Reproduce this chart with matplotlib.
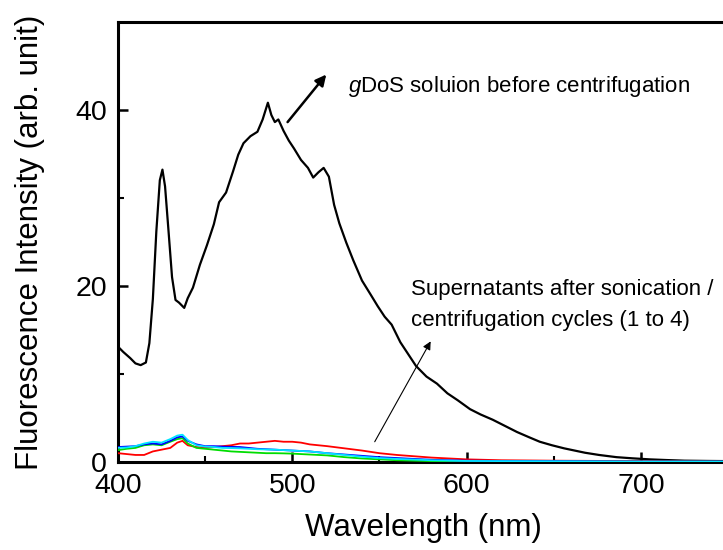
import matplotlib
matplotlib.use("Agg")
import matplotlib.pyplot as plt

plt.rcParams['font.family'] = ['Liberation Sans', 'DejaVu Sans']
plt.rcParams['mathtext.fontset'] = 'custom'
plt.rcParams['mathtext.rm'] = 'Liberation Sans'
plt.rcParams['mathtext.it'] = 'Liberation Sans:italic'

# ---- data ----
wl_black = [400, 403, 407, 410, 413, 416, 418, 420, 422, 424, 425.5, 427, 429, 431,
            433, 435, 438, 440, 443, 447, 451, 455, 458, 462, 466, 469, 472, 476,
            480, 483, 486, 488, 490, 492, 495, 498, 501, 505, 509, 512, 515, 518,
            521, 524, 527, 531, 535, 540, 545, 549, 553, 557, 562, 566, 571, 577,
            583, 589, 595, 602, 608, 615, 622, 629, 636, 642, 649, 656, 662, 668,
            676, 686, 695, 705, 715, 725, 738, 750]
int_black = [13.1, 12.5, 11.8, 11.2, 11.0, 11.3, 13.5, 18.5, 26.2, 32.0, 33.2, 31.3,
             26.2, 21.0, 18.4, 18.1, 17.5, 18.6, 19.8, 22.4, 24.6, 27.0, 29.5, 30.6,
             33.0, 34.9, 36.2, 37.0, 37.5, 38.9, 40.8, 39.4, 38.6, 38.9, 37.6, 36.5,
             35.6, 34.3, 33.4, 32.3, 32.9, 33.4, 32.4, 29.2, 27.1, 24.9, 22.9, 20.6,
             19.0, 17.7, 16.5, 15.6, 13.6, 12.4, 10.9, 9.7, 8.9, 7.8, 7.0, 6.0, 5.4,
             4.8, 4.1, 3.4, 2.8, 2.3, 1.9, 1.55, 1.3, 1.05, 0.8, 0.55, 0.42, 0.3,
             0.22, 0.15, 0.12, 0.1]

wl_cycles = [400, 405, 410, 415, 420, 425, 430, 434, 437, 440, 445, 450, 455, 460,
             465, 470, 475, 480, 485, 490, 495, 500, 505, 510, 515, 520, 530, 540,
             550, 560, 580, 600, 620, 650, 700, 750]
int_red = [1.0, 0.9, 0.8, 0.8, 1.2, 1.4, 1.6, 2.2, 2.4, 1.9, 1.7, 1.6, 1.7, 1.8,
           1.9, 2.1, 2.1, 2.2, 2.3, 2.4, 2.3, 2.3, 2.2, 2.0, 1.9, 1.8, 1.55, 1.3,
           1.0, 0.8, 0.5, 0.3, 0.2, 0.15, 0.1, 0.05]
int_green = [1.35, 1.5, 1.6, 1.9, 2.0, 1.9, 2.3, 2.6, 2.7, 2.1, 1.6, 1.5, 1.4, 1.3,
             1.2, 1.15, 1.1, 1.05, 1.0, 1.0, 0.98, 0.95, 0.9, 0.85, 0.8, 0.75, 0.55,
             0.4, 0.3, 0.2, 0.1, 0.05, 0.04, 0.03, 0.02, 0.02]
int_blue = [1.7, 1.75, 1.8, 2.0, 2.1, 2.0, 2.4, 2.8, 2.9, 2.4, 2.0, 1.8, 1.8, 1.75,
            1.72, 1.7, 1.6, 1.5, 1.45, 1.4, 1.35, 1.3, 1.25, 1.2, 1.1, 1.0, 0.85,
            0.7, 0.55, 0.45, 0.25, 0.15, 0.12, 0.1, 0.05, 0.05]
int_cyan = [1.6, 1.65, 1.8, 2.1, 2.3, 2.2, 2.6, 3.0, 3.1, 2.5, 1.9, 1.75, 1.7, 1.6,
            1.58, 1.55, 1.5, 1.45, 1.42, 1.4, 1.35, 1.3, 1.25, 1.2, 1.1, 1.0, 0.8,
            0.6, 0.45, 0.35, 0.2, 0.12, 0.1, 0.08, 0.05, 0.05]

x_ticks = [400, 500, 600, 700]
y_ticks = [0, 20, 40]

fig = plt.figure(figsize=(7.23, 5.5), dpi=100)
ax = fig.add_axes([118 / 723, 88 / 550, 610 / 723, 440.3 / 550])

ax.plot(wl_black, int_black, color='black', lw=1.6, zorder=3)
ax.plot(wl_cycles, int_red, color='#ff0000', lw=1.3, zorder=4)
ax.plot(wl_cycles, int_green, color='#00dd00', lw=1.3, zorder=5)
ax.plot(wl_cycles, int_blue, color='#0000ff', lw=1.3, zorder=6)
ax.plot(wl_cycles, int_cyan, color='#00e5ff', lw=1.3, zorder=7)

ax.set_xlim(400, 750)
ax.set_ylim(0, 50)
ax.set_xticks(x_ticks)
ax.set_yticks(y_ticks)
ax.set_xticks([450, 550, 650], minor=True)
ax.set_yticks([10, 30], minor=True)

for s in ax.spines.values():
    s.set_linewidth(2.2)
ax.tick_params(which='major', direction='in', length=7, width=1.8,
               labelsize=20.5, pad=8)
ax.tick_params(which='minor', direction='in', length=4, width=1.5)

ax.set_xlabel('Wavelength (nm)', fontsize=22.5, labelpad=10)
ax.set_ylabel('Fluorescence Intensity (arb. unit)', fontsize=22.5, labelpad=22)

ax.annotate('', xy=(519.5, 44.0), xytext=(497.3, 38.6),
            arrowprops=dict(arrowstyle='-|>', color='black', lw=1.8,
                            mutation_scale=16, shrinkA=0, shrinkB=0))
ax.text(532, 42.6, r'$\mathit{g}$DoS soluion before centrifugation',
        fontsize=16, ha='left', va='center')

ax.annotate('', xy=(579.4, 13.7), xytext=(547.3, 2.3),
            arrowprops=dict(arrowstyle='-|>', color='black', lw=0.8,
                            mutation_scale=12, shrinkA=0, shrinkB=0))
ax.text(568.3, 17.8, 'Supernatants after sonication /\ncentrifugation cycles (1 to 4)',
        fontsize=16, ha='left', va='center', linespacing=1.62)

fig.savefig('out.png', dpi=100)
